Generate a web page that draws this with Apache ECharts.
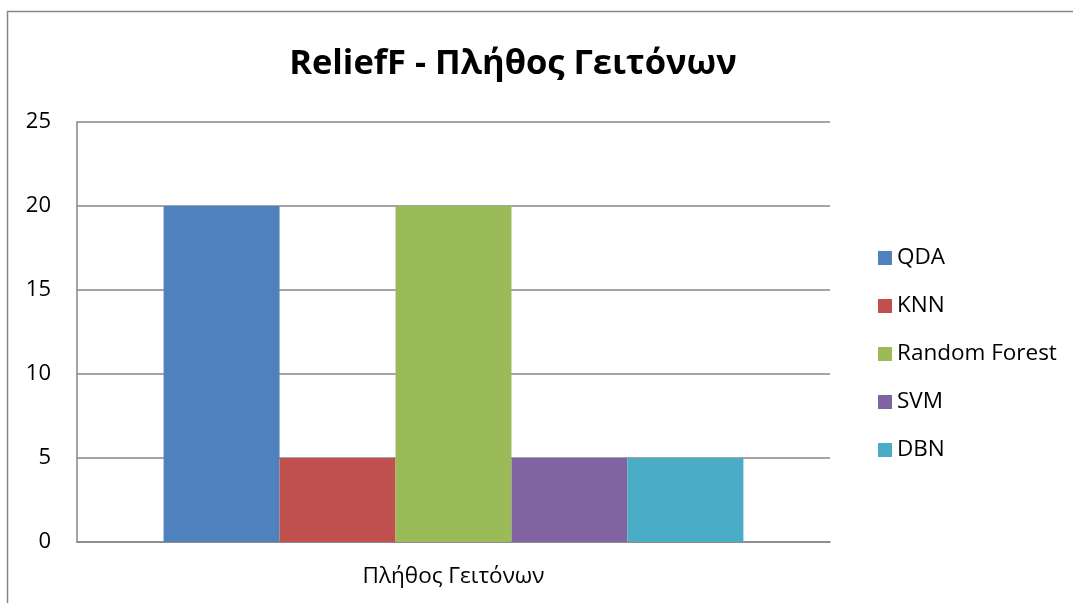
<!DOCTYPE html>
<html>
<head>
<meta charset="utf-8">
<style>html,body{margin:0;padding:0;background:#fff}#c{width:1073px;height:603px}</style>
<script src="https://cdn.jsdelivr.net/npm/echarts@6/dist/echarts.min.js"></script>
</head>
<body>
<div id="c"></div>
<script>
const titleText = 'ReliefF - Πλήθος Γειτόνων';
const categories = ['Πλήθος Γειτόνων'];
const seriesNames = ['QDA', 'KNN', 'Random Forest', 'SVM', 'DBN'];
const seriesValues = [[20], [5], [20], [5], [5]];
const seriesColors = ['#4F81BD', '#C0504D', '#9BBB59', '#8064A2', '#4BACC6'];
const yTicks = [0, 5, 10, 15, 20, 25];

const FONT = '"Open Sans", "Noto Sans", sans-serif';
const chart = echarts.init(document.getElementById('c'), null, {renderer: 'canvas'});
chart.setOption({
  backgroundColor: '#fff',
  animation: false,
  title: {
    text: titleText,
    left: 508, textAlign: 'center', top: 42,
    textStyle: {fontFamily: FONT, fontWeight: 'bold', fontSize: 34.5, color: '#000'}
  },
  graphic: [{
    type: 'rect', silent: true,
    shape: {x: 7.5, y: 11.5, width: 1200, height: 800},
    style: {fill: 'none', stroke: '#868686', lineWidth: 1.5}
  }],
  legend: {
    orient: 'vertical', left: 873, top: 240,
    itemWidth: 14, itemHeight: 14, itemGap: 22,
    icon: 'rect',
    textStyle: {fontFamily: FONT, fontSize: 22.5, color: '#000', lineHeight: 26},
    data: seriesNames
  },
  grid: {left: 77, top: 122, right: 243, bottom: 61, containLabel: false},
  xAxis: {
    type: 'category', data: categories,
    axisLine: {show: true, lineStyle: {color: '#868686', width: 1.5}},
    axisTick: {show: false},
    axisLabel: {fontFamily: FONT, fontSize: 22.5, color: '#000', margin: 24, lineHeight: 22}
  },
  yAxis: {
    type: 'value', min: yTicks[0], max: yTicks[yTicks.length - 1], interval: 5,
    axisLine: {show: true, lineStyle: {color: '#868686', width: 1.5}},
    axisTick: {show: false},
    splitLine: {show: true, lineStyle: {color: '#868686', width: 1.5}},
    axisLabel: {fontFamily: FONT, fontSize: 22, color: '#000', margin: 26}
  },
  series: seriesNames.map((n, i) => ({
    type: 'bar', name: n, data: seriesValues[i],
    itemStyle: {color: seriesColors[i]},
    barGap: '0%', barCategoryGap: '23%'
  }))
});
</script>
</body>
</html>
